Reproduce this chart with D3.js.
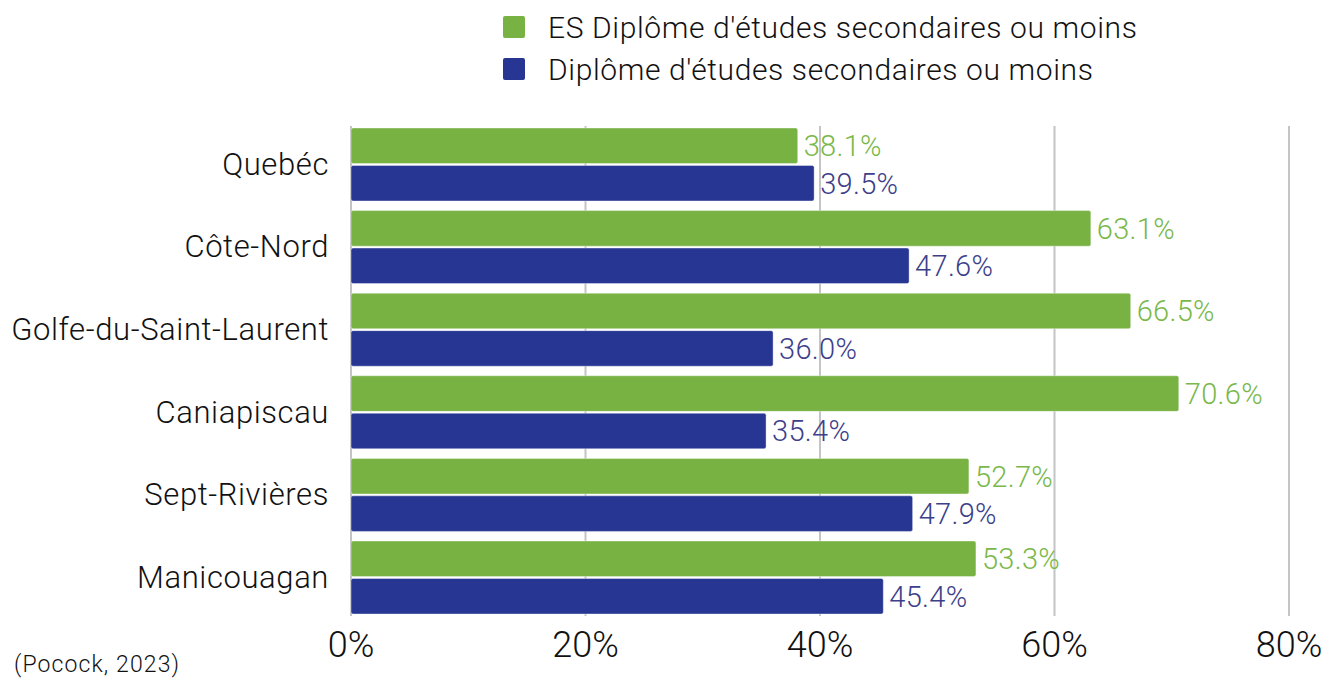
<!DOCTYPE html>
<html>
<head>
<meta charset="utf-8">
<script src="https://cdn.jsdelivr.net/npm/d3@7"></script>
<style>
  body { margin: 0; background: #fff; }
  text { font-family: Roboto, "Noto Sans", sans-serif; }
</style>
</head>
<body>
<script>
const svgWidth = 1325;
const svgHeight = 681;

// data
const regions = ["Quebéc", "Côte-Nord", "Golfe-du-Saint-Laurent", "Caniapiscau", "Sept-Rivières", "Manicouagan"];
const seriesNames = ["ES Diplôme d'études secondaires ou moins", "Diplôme d'études secondaires ou moins"];
const esValues = [38.1, 63.1, 66.5, 70.6, 52.7, 53.3];
const dipValues = [39.5, 47.6, 36.0, 35.4, 47.9, 45.4];
const xTicks = [0, 20, 40, 60, 80];
const source = "(Pocock, 2023)";

const barColors = ["#77b243", "#263692"];
const labelColors = ["#7ab84a", "#3c408a"];

const margin = {top: 126, right: 36, bottom: 67, left: 351};

const svg = d3.select("body").append("svg")
    .attr("id", "chart")
    .attr("width", svgWidth)
    .attr("height", svgHeight);

const g = svg.append("g")
    .attr("transform", `translate(${margin.left},${margin.top})`);

const x = d3.scaleLinear().domain([0, 80]).range([0, 938]);

const y = d3.scaleBand()
    .domain(regions)
    .range([0, 490])
    .paddingInner(0.116)
    .paddingOuter(0.024);

const sub = d3.scaleBand()
    .domain([0, 1])
    .range([0, y.bandwidth()])
    .paddingInner(0.05);

// gridlines
g.selectAll(".grid")
    .data(xTicks)
    .enter().append("line")
    .attr("class", "grid")
    .attr("x1", d => x(d))
    .attr("x2", d => x(d))
    .attr("y1", 0)
    .attr("y2", 490)
    .attr("stroke", "#c4c4c4")
    .attr("stroke-width", 2);

const rows = regions.map((r, i) => ({region: r, vals: [esValues[i], dipValues[i]]}));

const groups = g.selectAll(".row")
    .data(rows)
    .enter().append("g")
    .attr("class", "row")
    .attr("transform", d => `translate(0,${y(d.region)})`);

groups.selectAll("rect")
    .data(d => d.vals)
    .enter().append("rect")
    .attr("x", 0)
    .attr("y", (d, i) => sub(i))
    .attr("width", d => x(d))
    .attr("height", sub.bandwidth())
    .attr("rx", 2)
    .attr("fill", (d, i) => barColors[i])
    .attr("stroke", "#fff")
    .attr("stroke-opacity", 0.4)
    .attr("stroke-width", 1);

groups.selectAll(".val")
    .data(d => d.vals)
    .enter().append("text")
    .attr("class", "val")
    .attr("x", d => x(d) + 6)
    .attr("y", (d, i) => sub(i) + sub.bandwidth() / 2)
    .attr("dy", "0.36em")
    .attr("font-size", 29)
    .attr("font-weight", 300)
    .attr("letter-spacing", 0.3)
    .attr("fill", (d, i) => labelColors[i])
    .text(d => d.toFixed(1) + "%");

// category labels
groups.append("text")
    .attr("x", -22)
    .attr("y", y.bandwidth() / 2)
    .attr("dy", "0.33em")
    .attr("text-anchor", "end")
    .attr("font-size", 31)
    .attr("font-weight", 300)
    .attr("letter-spacing", 0.6)
    .attr("fill", "#111")
    .text(d => d.region);

// x tick labels
g.selectAll(".tick-label")
    .data(xTicks)
    .enter().append("text")
    .attr("class", "tick-label")
    .attr("x", d => x(d))
    .attr("y", 531)
    .attr("text-anchor", "middle")
    .attr("font-size", 36)
    .attr("font-weight", 300)
    .attr("fill", "#111")
    .text(d => d + "%");

// legend
const legend = svg.append("g")
    .attr("transform", "translate(503,16)");

const items = legend.selectAll(".item")
    .data(seriesNames)
    .enter().append("g")
    .attr("transform", (d, i) => `translate(0,${i * 42})`);

items.append("rect")
    .attr("width", 22)
    .attr("height", 22)
    .attr("rx", 2)
    .attr("fill", (d, i) => barColors[i]);

items.append("text")
    .attr("x", 45)
    .attr("y", 11)
    .attr("dy", "0.36em")
    .attr("font-size", 30)
    .attr("font-weight", 300)
    .attr("letter-spacing", 0.62)
    .attr("fill", "#111")
    .text(d => d);

svg.append("text")
    .attr("x", 14)
    .attr("y", 672)
    .attr("font-size", 23)
    .attr("font-weight", 300)
    .attr("letter-spacing", 1.1)
    .attr("fill", "#111")
    .text(source);
</script>
</body>
</html>
